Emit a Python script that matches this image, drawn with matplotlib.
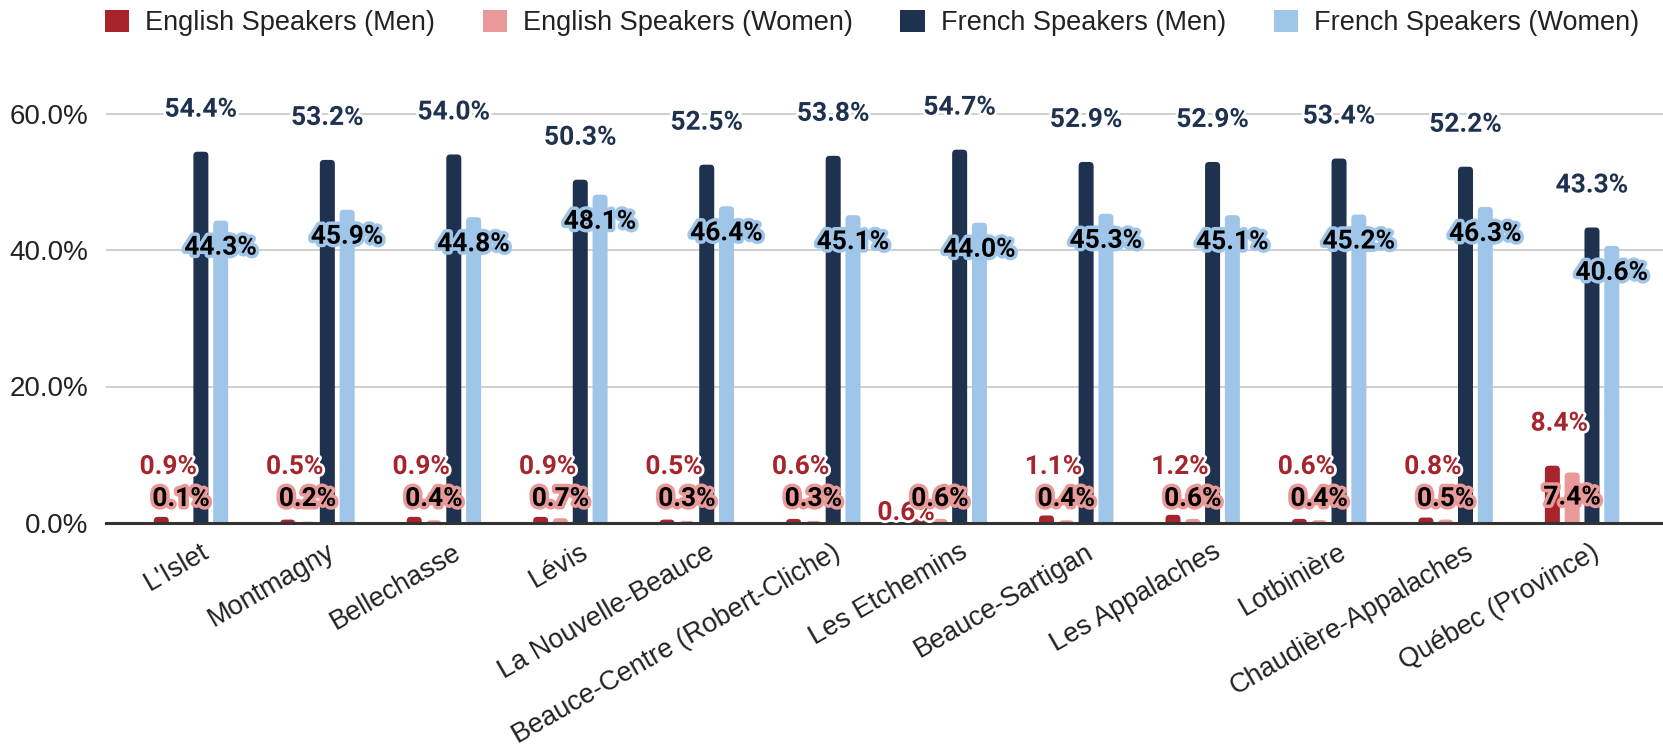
import matplotlib
matplotlib.use("Agg")
import matplotlib.pyplot as plt
import matplotlib.patheffects as pe
from matplotlib.patches import FancyBboxPatch, Patch
from matplotlib.transforms import ScaledTranslation
import numpy as np

categories = ["L'Islet", "Montmagny", "Bellechasse", "Lévis", "La Nouvelle-Beauce",
              "Beauce-Centre (Robert-Cliche)", "Les Etchemins", "Beauce-Sartigan",
              "Les Appalaches", "Lotbinière", "Chaudière-Appalaches", "Québec (Province)"]
english_men = [0.9, 0.5, 0.9, 0.9, 0.5, 0.6, 0.6, 1.1, 1.2, 0.6, 0.8, 8.4]
english_women = [0.1, 0.2, 0.4, 0.7, 0.3, 0.3, 0.6, 0.4, 0.6, 0.4, 0.5, 7.4]
french_men = [54.4, 53.2, 54.0, 50.3, 52.5, 53.8, 54.7, 52.9, 52.9, 53.4, 52.2, 43.3]
french_women = [44.3, 45.9, 44.8, 48.1, 46.4, 45.1, 44.0, 45.3, 45.1, 45.2, 46.3, 40.6]
series_names = ["English Speakers (Men)", "English Speakers (Women)",
                "French Speakers (Men)", "French Speakers (Women)"]
yticks = [0, 20, 40, 60]
ytick_labels = ["0.0%", "20.0%", "40.0%", "60.0%"]

C_EM = "#A6252C"
C_EW = "#EA9999"
C_FM = "#1E3250"
C_FW = "#9FC5E8"

W, H, DPI = 1663, 749, 100
fig = plt.figure(figsize=(W / DPI, H / DPI), dpi=DPI)
ax = fig.add_axes([106 / W, 1 - 523 / H, 1 - 106 / W, 64 * 6.825 / H])
ax.set_xlim(-0.672, 11.64)
ax.set_ylim(0, 64)

px_x = (W - 106) / (11.64 + 0.672)   # pixels per x unit
px_y = 6.825                          # pixels per y unit

x = np.arange(len(categories))
bw = 15 / px_x
step = 19.8 / px_x
offsets = [-1.5 * step, -0.5 * step, 0.5 * step, 1.5 * step]
series = [english_men, english_women, french_men, french_women]
colors = [C_EM, C_EW, C_FM, C_FW]

r = 4 / px_x
aspect = px_x / px_y
ext = 1.5
for vals, off, col in zip(series, offsets, colors):
    bars = ax.bar(x + off, vals, width=bw, color=col)
    for rect in bars:
        bx, by = rect.get_x(), rect.get_y()
        bwid, bh = rect.get_width(), rect.get_height()
        rect.set_visible(False)
        fp = FancyBboxPatch((bx, by - ext), bwid, bh + ext,
                            boxstyle=f"round,pad=0,rounding_size={r}",
                            mutation_aspect=aspect, facecolor=col,
                            edgecolor="none", zorder=3)
        ax.add_patch(fp)

# grid & spines
ax.set_yticks(yticks)
ax.set_yticklabels(ytick_labels, fontsize=20, family="Liberation Sans", color="#222222")
ax.tick_params(axis="y", length=0, pad=13)
ax.tick_params(axis="x", length=0)
ax.set_xticks([])
ax.grid(axis="y", color="#CCCCCC", linewidth=1.3, zorder=0)
ax.set_axisbelow(True)
for s in ["top", "right", "left"]:
    ax.spines[s].set_visible(False)
ax.spines["bottom"].set_color("#333333")
ax.spines["bottom"].set_linewidth(2.2)
ax.spines["bottom"].set_zorder(5)

# x labels
for i, lab in enumerate(categories):
    ax.text(i, 0, lab, rotation=30, rotation_mode="anchor", ha="right", va="top",
            fontsize=19.5, family="Liberation Sans", color="#222222",
            transform=ax.get_xaxis_transform() + ScaledTranslation(9 / DPI, -16 / DPI, fig.dpi_scale_trans))

font = dict(family=["Roboto", "DejaVu Sans"], fontweight="bold", fontsize=19)

def lab(xv, yv, dx, dy, txt, color, stroke, sw):
    ax.annotate(txt, (xv, yv), xytext=(dx, dy), textcoords="offset pixels",
                ha="center", va="center", color=color, zorder=6, annotation_clip=False,
                path_effects=[pe.withStroke(linewidth=sw, foreground=stroke)], **font)

em_override = {6: (-14, 10)}
for i in range(len(categories)):
    # English men
    if i in em_override:
        dx, dy = em_override[i]
        lab(x[i] + offsets[0], 0, dx, dy, f"{english_men[i]:.1f}%", C_EM, "white", 4)
    else:
        dy = max(english_men[i] * px_y + 42, 56)
        lab(x[i] + offsets[0], 0, 7, dy, f"{english_men[i]:.1f}%", C_EM, "white", 4)
    # English women
    dy = max(english_women[i] * px_y - 25, 24)
    lab(x[i] + offsets[1], 0, 0, dy, f"{english_women[i]:.1f}%", "black", C_EW, 5)
    # French men
    lab(x[i] + offsets[2], french_men[i], 0, 42, f"{french_men[i]:.1f}%", C_FM, "white", 4)
    # French women
    lab(x[i] + offsets[3], french_women[i], 0, -27, f"{french_women[i]:.1f}%", "black", C_FW, 5)

handles = [Patch(facecolor=c, edgecolor="none") for c in colors]
fig.legend(handles, series_names, loc="center", bbox_to_anchor=(872 / W, 1 - 23 / H),
           ncol=4, frameon=False, prop=dict(family="Liberation Sans", size=19.5),
           handlelength=0.9, handleheight=0.9, handletextpad=0.6,
           columnspacing=1.75, labelcolor="#222222")

fig.savefig("out.png", dpi=DPI)
